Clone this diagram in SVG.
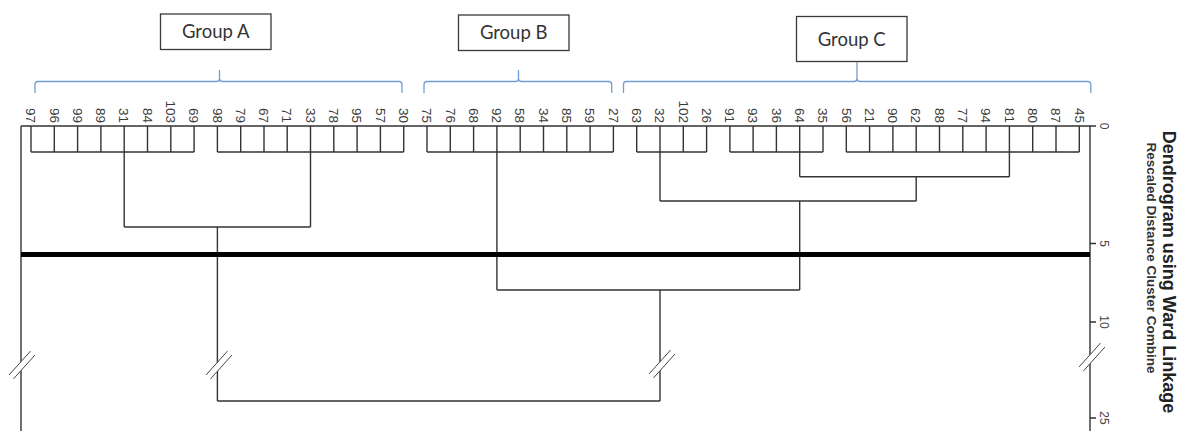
<svg xmlns="http://www.w3.org/2000/svg" width="1178" height="431" viewBox="0 0 1178 431">
<style>
.bg{fill:#ffffff}
.box{fill:#ffffff;stroke:#3a3a3a;stroke-width:1.3}
.boxt{font-family:Lato,"Liberation Sans",sans-serif;font-size:18.5px;fill:#333;text-anchor:middle}
.br{fill:none;stroke:#6f9fd3;stroke-width:1.3}
.ln{fill:none;stroke:#333;stroke-width:1.4}
.cut{fill:none;stroke:#000;stroke-width:4.8}
.leaf{font-family:"Liberation Sans",Arial,sans-serif;font-size:13.5px;fill:#3a3a3a;text-anchor:end}
.ax{font-family:"Liberation Sans",Arial,sans-serif;font-size:12px;fill:#444;text-anchor:middle}
.title{font-family:"Liberation Sans",Arial,sans-serif;font-weight:bold;font-size:18px;fill:#222;text-anchor:middle}
.sub{font-family:"Liberation Sans",Arial,sans-serif;font-weight:bold;font-size:13.5px;fill:#333;text-anchor:middle}
.brk{fill:none;stroke:#444;stroke-width:1}
</style>
<defs>
<g id="brk">
<polygon points="-12.9,9.9 8.5,-13.9 12.9,-9.9 -8.5,13.9" fill="#ffffff"/>
<line class="brk" x1="-12.9" y1="9.9" x2="8.5" y2="-13.9"/>
<line class="brk" x1="-8.5" y1="13.9" x2="12.9" y2="-9.9"/>
</g>
</defs>
<rect class="bg" x="0" y="0" width="1178" height="431"/>

<g id="group-a"><rect class="box" x="160.5" y="14" width="110.5" height="35.5"/><text class="boxt" x="215.7" y="38">Group A</text></g>
<g id="group-b"><rect class="box" x="458.5" y="15" width="110.5" height="35.5"/><text class="boxt" x="513.7" y="39">Group B</text></g>
<g id="group-c"><rect class="box" x="796.5" y="16.5" width="110.5" height="45"/><text class="boxt" x="851.7" y="45.5">Group C</text></g>

<g id="brackets">
<path class="br" d="M35,93 V84.5 Q35,81.5 38,81.5 H216.5 Q219.5,81.5 219.5,78.5 V70 M219.5,78.5 Q219.5,81.5 222.5,81.5 H399 Q402,81.5 402,84.5 V93"/>
<path class="br" d="M424,93 V84.5 Q424,81.5 427,81.5 H515.5 Q518.5,81.5 518.5,78.5 V70 M518.5,78.5 Q518.5,81.5 521.5,81.5 H608.7 Q611.7,81.5 611.7,84.5 V93"/>
<path class="br" d="M623.5,93 V84.5 Q623.5,81.5 626.5,81.5 H854 Q857,81.5 857,78.5 V62 M857,78.5 Q857,81.5 860,81.5 H1087.8 Q1090.8,81.5 1090.8,84.5 V93"/>
</g>

<g id="leaves">
<text class="leaf" transform="translate(26.2,123) rotate(90)">97</text>
<text class="leaf" transform="translate(49.5,123) rotate(90)">96</text>
<text class="leaf" transform="translate(72.8,123) rotate(90)">99</text>
<text class="leaf" transform="translate(96.1,123) rotate(90)">89</text>
<text class="leaf" transform="translate(119.4,123) rotate(90)">31</text>
<text class="leaf" transform="translate(142.7,123) rotate(90)">84</text>
<text class="leaf" transform="translate(166,123) rotate(90)">103</text>
<text class="leaf" transform="translate(189.3,123) rotate(90)">69</text>
<text class="leaf" transform="translate(212.6,123) rotate(90)">98</text>
<text class="leaf" transform="translate(235.9,123) rotate(90)">79</text>
<text class="leaf" transform="translate(259.2,123) rotate(90)">67</text>
<text class="leaf" transform="translate(282.4,123) rotate(90)">71</text>
<text class="leaf" transform="translate(305.7,123) rotate(90)">33</text>
<text class="leaf" transform="translate(329,123) rotate(90)">78</text>
<text class="leaf" transform="translate(352.3,123) rotate(90)">95</text>
<text class="leaf" transform="translate(375.6,123) rotate(90)">57</text>
<text class="leaf" transform="translate(398.9,123) rotate(90)">30</text>
<text class="leaf" transform="translate(422.2,123) rotate(90)">75</text>
<text class="leaf" transform="translate(445.5,123) rotate(90)">76</text>
<text class="leaf" transform="translate(468.8,123) rotate(90)">68</text>
<text class="leaf" transform="translate(492.1,123) rotate(90)">92</text>
<text class="leaf" transform="translate(515.4,123) rotate(90)">58</text>
<text class="leaf" transform="translate(538.7,123) rotate(90)">34</text>
<text class="leaf" transform="translate(562,123) rotate(90)">85</text>
<text class="leaf" transform="translate(585.3,123) rotate(90)">59</text>
<text class="leaf" transform="translate(608.6,123) rotate(90)">27</text>
<text class="leaf" transform="translate(631.9,123) rotate(90)">63</text>
<text class="leaf" transform="translate(655.2,123) rotate(90)">32</text>
<text class="leaf" transform="translate(678.5,123) rotate(90)">102</text>
<text class="leaf" transform="translate(701.8,123) rotate(90)">26</text>
<text class="leaf" transform="translate(725.1,123) rotate(90)">91</text>
<text class="leaf" transform="translate(748.3,123) rotate(90)">93</text>
<text class="leaf" transform="translate(771.6,123) rotate(90)">36</text>
<text class="leaf" transform="translate(794.9,123) rotate(90)">64</text>
<text class="leaf" transform="translate(818.2,123) rotate(90)">35</text>
<text class="leaf" transform="translate(841.5,123) rotate(90)">56</text>
<text class="leaf" transform="translate(864.8,123) rotate(90)">21</text>
<text class="leaf" transform="translate(888.1,123) rotate(90)">90</text>
<text class="leaf" transform="translate(911.4,123) rotate(90)">62</text>
<text class="leaf" transform="translate(934.7,123) rotate(90)">88</text>
<text class="leaf" transform="translate(958,123) rotate(90)">77</text>
<text class="leaf" transform="translate(981.3,123) rotate(90)">94</text>
<text class="leaf" transform="translate(1004.6,123) rotate(90)">81</text>
<text class="leaf" transform="translate(1027.9,123) rotate(90)">80</text>
<text class="leaf" transform="translate(1051.2,123) rotate(90)">87</text>
<text class="leaf" transform="translate(1074.5,123) rotate(90)">45</text>
</g>

<g id="connectors">
<path class="ln" d="M21,126 H1096 M21,126 V431 M1090,126 V431 M1090,243.5 H1096 M1090,322 H1096 M1090,418 H1096"/>
<path class="ln" d="M31,126V152 M54.3,126V152 M77.6,126V152 M100.9,126V152 M124.2,126V152 M147.5,126V152 M170.8,126V152 M194.1,126V152 M217.4,126V152 M240.7,126V152 M264,126V152 M287.2,126V152 M310.5,126V152 M333.8,126V152 M357.1,126V152 M380.4,126V152 M403.7,126V152 M427,126V152 M450.3,126V152 M473.6,126V152 M496.9,126V152 M520.2,126V152 M543.5,126V152 M566.8,126V152 M590.1,126V152 M613.4,126V152 M636.7,126V152 M660,126V152 M683.3,126V152 M706.6,126V152 M729.9,126V152 M753.1,126V152 M776.4,126V152 M799.7,126V152 M823,126V152 M846.3,126V152 M869.6,126V152 M892.9,126V152 M916.2,126V152 M939.5,126V152 M962.8,126V152 M986.1,126V152 M1009.4,126V152 M1032.7,126V152 M1056,126V152 M1079.3,126V152"/>
<path class="ln" d="M31,152 H194.1 M217.4,152 H403.7 M427,152 H613.4 M636.7,152 H706.6 M729.9,152 H823 M846.3,152 H1079.3"/>
<path class="ln" d="M124.2,152 V227 M310.5,152 V227 M124.2,227 H310.5 M217.4,227 V401"/>
<path class="ln" d="M496.9,152 V290"/>
<path class="ln" d="M660,152 V201 M799.7,152 V176.7 M1009.4,152 V176.7 M799.7,176.7 H1009.4 M916.2,176.7 V201 M660,201 H916.2 M799.7,201 V290"/>
<path class="ln" d="M496.9,290 H799.7 M660,290 V401 M217.4,401 H660"/>
<line class="cut" x1="21" y1="254.5" x2="1090" y2="254.5"/>
<use href="#brk" x="22" y="365"/>
<use href="#brk" x="219" y="365"/>
<use href="#brk" x="662" y="364"/>
<use href="#brk" x="1092" y="357"/>
</g>

<g id="axis">
<text class="ax" transform="translate(1100,126) rotate(90)">0</text>
<text class="ax" transform="translate(1100,243.5) rotate(90)">5</text>
<text class="ax" transform="translate(1100,322) rotate(90)">10</text>
<text class="ax" transform="translate(1100,418) rotate(90)">25</text>
</g>

<g id="title">
<text class="title" transform="translate(1163,272) rotate(90)">Dendrogram using Ward Linkage</text>
<text class="sub" transform="translate(1147,258) rotate(90)">Rescaled Distance Cluster Combine</text>
</g>
</svg>
